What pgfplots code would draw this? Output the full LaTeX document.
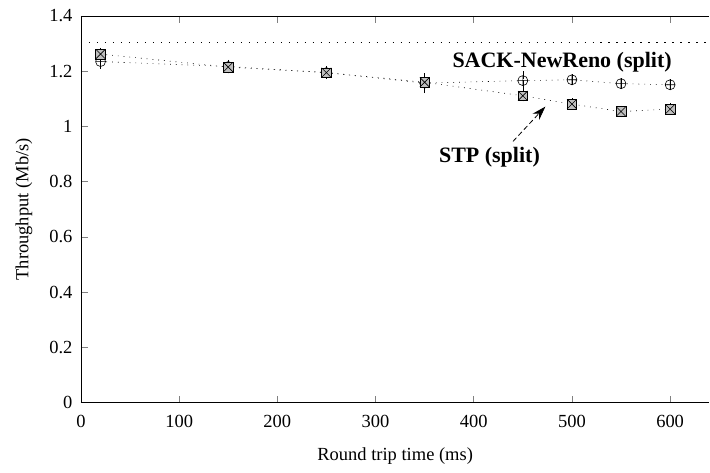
\documentclass[border=0pt]{standalone}
\usepackage{fontspec}
\setmainfont{Liberation Serif}
\usepackage{pgfplots}
\pgfplotsset{compat=1.18}
\usetikzlibrary{plotmarks,arrows.meta}
\pgfdeclareplotmark{boxx}{%
  \pgfpathrectangle{\pgfpoint{-\pgfplotmarksize}{-\pgfplotmarksize}}{\pgfpoint{2\pgfplotmarksize}{2\pgfplotmarksize}}%
  \pgfusepathqfillstroke
  \pgfpathmoveto{\pgfpoint{-\pgfplotmarksize}{-\pgfplotmarksize}}\pgfpathlineto{\pgfpoint{\pgfplotmarksize}{\pgfplotmarksize}}%
  \pgfpathmoveto{\pgfpoint{-\pgfplotmarksize}{\pgfplotmarksize}}\pgfpathlineto{\pgfpoint{\pgfplotmarksize}{-\pgfplotmarksize}}%
  \pgfusepathqstroke}
\begin{document}
\begin{tikzpicture}
\begin{axis}[
  scale only axis,
  width=629bp, height=387bp,
  xmin=0, xmax=640, ymin=0, ymax=1.4,
  axis x line=box, axis y line=left,
  axis line style={-, line width=0.8bp},
  xtick={0,100,...,600},
  ytick={0,0.2,...,1.4},
  yticklabels={0,0.2,0.4,0.6,0.8,1,1.2,1.4},
  tick align=inside,
  major tick length=7bp,
  tick style={gray, line width=0.8bp},
  /pgf/number format/assume math mode=true,
  tick label style={font=\fontsize{18.5bp}{20bp}\selectfont},
  xticklabel style={yshift=-9bp},
  yticklabel style={xshift=-5bp},
  label style={font=\fontsize{18.5bp}{20bp}\selectfont},
  xlabel={Round trip time (ms)},
  ylabel={Throughput (Mb/s)},
  xlabel style={yshift=-13bp},
  ylabel style={yshift=10bp},
  clip=false,
]
\coordinate (sw) at (rel axis cs:0,0);
% reference bandwidth
\addplot[black, line width=1.2bp, dash pattern=on 1.2bp off 6.8bp, forget plot] coordinates {(0,1.305) (640,1.305)};
% SACK-NewReno (split)
\addplot[black, line width=0.6bp, dash pattern=on 0.8bp off 5bp,
  mark=oplus, mark size=5bp, mark options={solid, fill=gray!60, line width=0.6bp},
  error bars/.cd, y dir=both, y explicit, error mark options={mark size=4bp, line width=0.6bp, solid}]
coordinates {
 (20,1.235) +- (0,0.012)
 (150,1.217) +- (0,0.01)
 (250,1.195) +- (0,0.008)
 (350,1.157) +- (0,0.022)
 (450,1.166) +- (0,0.02)
 (500,1.169) +- (0,0.006)
 (550,1.155) +- (0,0.005)
 (600,1.151) +- (0,0.005)
};
% STP (split)
\addplot[black, line width=0.6bp, dash pattern=on 0.8bp off 5bp,
  mark=boxx, mark size=4.8bp, mark options={solid, fill=gray!50, line width=0.6bp},
  error bars/.cd, y dir=both, y explicit, error mark options={mark size=4bp, line width=0.6bp, solid}]
coordinates {
 (20,1.262) +- (0,0.008)
 (150,1.215) +- (0,0.008)
 (250,1.195) +- (0,0.006)
 (350,1.160) +- (0,0.01)
 (450,1.111) +- (0,0.006)
 (500,1.081) +- (0,0.006)
 (550,1.054) +- (0,0.006)
 (600,1.063) +- (0,0.006)
};
\node[font=\fontsize{22bp}{24bp}\selectfont\bfseries] at (axis cs:490,1.231) {SACK-NewReno (split)};
\node[font=\fontsize{22bp}{24bp}\selectfont\bfseries] at (axis cs:416,0.887) {STP (split)};
\draw[black, line width=0.8bp, dash pattern=on 5bp off 3bp, -{Stealth[length=14bp, width=9bp]}] (axis cs:440,0.946) -- (axis cs:473,1.072);
\end{axis}
\path ([shift={(-81bp,-70bp)}]sw) rectangle ++(710bp,473bp);
\end{tikzpicture}
\end{document}
